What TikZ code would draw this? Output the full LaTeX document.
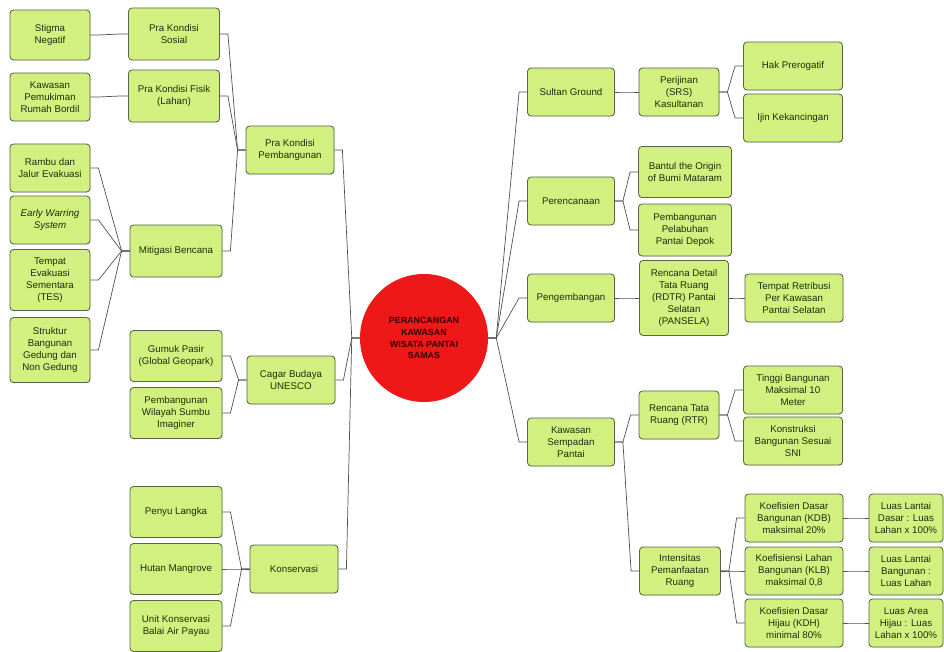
\documentclass[tikz,border=0pt]{standalone}
\usepackage{fontspec}
\setmainfont{Liberation Sans}
\usepackage{tikz}
\usetikzlibrary{calc, shadows}
\definecolor{boxgreen}{RGB}{210, 240, 128}
\definecolor{boxedge}{RGB}{90, 100, 75}
\definecolor{linegray}{RGB}{80, 80, 80}
\definecolor{textgreen}{RGB}{30, 45, 10}
\definecolor{hubred}{RGB}{238, 24, 24}

\begin{document}
\begin{tikzpicture}[x=0.03cm, y=-0.03cm,
    box/.style={draw=boxedge, fill=boxgreen, rounded corners=3pt,
      line width=0.7pt, text=textgreen, align=center, inner sep=1pt,
      font=\fontsize{8.3}{10.2}\selectfont,
      drop shadow={shadow xshift=0.5pt, shadow yshift=-0.6pt, opacity=0.25},
      minimum width=#1, minimum height=1.44cm},
    box/.default=2.61cm,
    hub/.style={circle, fill=hubred, minimum size=3.84cm, align=center,
      text=black!80!red, font=\fontsize{7.6}{10.2}\selectfont\bfseries},
    link/.style={draw=linegray, line width=0.6pt,
      to path={-- ++(8,0) -- ($(\tikztotarget)+(-8,0)$) -- (\tikztotarget)}}]
    \useasboundingbox (0,0) rectangle (944,652);

    %% centre
    \node[hub] (hub) at (424,338)
      {PERANCANGAN\\KAWASAN\\WISATA PANTAI\\SAMAS};

    %% left: leaves
    \node[box=2.4cm, minimum height=1.5cm] (stigma) at (50,35) {Stigma\\Negatif};
    \node[box=2.4cm] (bordil) at (50,97) {Kawasan\\Pemukiman\\Rumah Bordil};
    \node[box=2.4cm] (rambu) at (50,168) {Rambu dan\\Jalur Evakuasi};
    \node[box=2.4cm] (ews) at (50,220) {\itshape Early Warring\\\itshape System};
    \node[box=2.4cm, minimum height=1.83cm] (tes) at (50,280)
      {Tempat\\Evakuasi\\Sementara\\(TES)};
    \node[box=2.4cm, minimum height=1.95cm] (struktur) at (50,350)
      {Struktur\\Bangunan\\Gedung dan\\Non Gedung};

    %% left: second level
    \node[box=2.73cm, minimum height=1.56cm] (sosial) at (174,34) {Pra Kondisi\\Sosial};
    \node[box=2.73cm, minimum height=1.56cm] (fisik) at (174,96) {Pra Kondisi Fisik\\(Lahan)};
    \node[box=2.76cm, minimum height=1.56cm] (mitigasi) at (176,251) {Mitigasi Bencana};
    \node[box=2.76cm, minimum height=1.53cm] (gumuk) at (176,356) {Gumuk Pasir\\(Global Geopark)};
    \node[box=2.76cm, minimum height=1.53cm] (sumbu) at (176,413)
      {Pembangunan\\Wilayah Sumbu\\Imaginer};
    \node[box=2.76cm, minimum height=1.53cm] (penyu) at (176,512) {Penyu Langka};
    \node[box=2.76cm, minimum height=1.53cm] (mangrove) at (176,569) {Hutan Mangrove};
    \node[box=2.76cm, minimum height=1.53cm] (balai) at (176,626)
      {Unit Konservasi\\Balai Air Payau};

    %% left: first level
    \node[box=2.64cm] (pkp) at (290,150) {Pra Kondisi\\Pembangunan};
    \node[box=2.64cm] (cagar) at (291,380) {Cagar Budaya\\UNESCO};
    \node[box=2.64cm] (konservasi) at (294,569) {Konservasi};

    %% right: first level
    \node[box] (sultan) at (571,92) {Sultan Ground};
    \node[box] (perencanaan) at (571,201) {Perencanaan};
    \node[box] (pengembangan) at (571,298) {Pengembangan};
    \node[box] (sempadan) at (571,442) {Kawasan\\Sempadan\\Pantai};

    %% right: second level
    \node[box=2.4cm] (perijinan) at (679,92) {Perijinan\\(SRS)\\Kasultanan};
    \node[box=2.79cm, minimum height=1.53cm] (bantul) at (685,172)
      {Bantul the Origin\\of Bumi Mataram};
    \node[box=2.79cm, minimum height=1.56cm] (depok) at (685,230)
      {Pembangunan\\Pelabuhan\\Pantai Depok};
    \node[box=2.67cm, minimum height=2.25cm] (rdtr) at (684,298)
      {Rencana Detail\\Tata Ruang\\(RDTR) Pantai\\Selatan\\(PANSELA)};
    \node[box=2.4cm] (rtr) at (679,415) {Rencana Tata\\Ruang (RTR)};
    \node[box=2.43cm] (intensitas) at (680,571) {Intensitas\\Pemanfaatan\\Ruang};

    %% right: third level
    \node[box=2.97cm] (hak) at (793,66) {Hak Prerogatif};
    \node[box=2.97cm] (ijin) at (793,118) {Ijin Kekancingan};
    \node[box=2.94cm] (retribusi) at (794,298)
      {Tempat Retribusi\\Per Kawasan\\Pantai Selatan};
    \node[box=2.97cm] (tinggi) at (793,390) {Tinggi Bangunan\\Maksimal 10\\Meter};
    \node[box=2.97cm] (sni) at (793,441) {Konstruksi\\Bangunan Sesuai\\SNI};
    \node[box=2.94cm] (kdb) at (794,518)
      {Koefisien Dasar\\Bangunan (KDB)\\maksimal 20\%};
    \node[box=2.94cm] (klb) at (794,571)
      {Koefisiensi Lahan\\Bangunan (KLB)\\maksimal 0,8};
    \node[box=2.94cm] (kdh) at (794,623)
      {Koefisien Dasar\\Hijau (KDH)\\minimal 80\%};

    %% right: fourth level
    \node[box=2.22cm] (luaskdb) at (906,518) {Luas Lantai\\Dasar : Luas\\Lahan x 100\%};
    \node[box=2.22cm] (luasklb) at (906,571) {Luas Lantai\\Bangunan :\\Luas Lahan};
    \node[box=2.22cm] (luaskdh) at (906,623) {Luas Area\\Hijau : Luas\\Lahan x 100\%};

    %% links, left half
    \draw[link] (stigma.east) to (sosial.west);
    \draw[link] (bordil.east) to (fisik.west);
    \draw[link] (rambu.east) to (mitigasi.west);
    \draw[link] (ews.east) to (mitigasi.west);
    \draw[link] (tes.east) to (mitigasi.west);
    \draw[link] (struktur.east) to (mitigasi.west);
    \draw[link] (sosial.east) to (pkp.west);
    \draw[link] (fisik.east) to (pkp.west);
    \draw[link] (mitigasi.east) to (pkp.west);
    \draw[link] (gumuk.east) to (cagar.west);
    \draw[link] (sumbu.east) to (cagar.west);
    \draw[link] (penyu.east) to (konservasi.west);
    \draw[link] (mangrove.east) to (konservasi.west);
    \draw[link] (balai.east) to (konservasi.west);
    \draw[link] (pkp.east) to (hub.west);
    \draw[link] (cagar.east) to (hub.west);
    \draw[link] (konservasi.east) to (hub.west);

    %% links, right half
    \draw[link] (hub.east) to (sultan.west);
    \draw[link] (hub.east) to (perencanaan.west);
    \draw[link] (hub.east) to (pengembangan.west);
    \draw[link] (hub.east) to (sempadan.west);
    \draw[link] (sultan.east) to (perijinan.west);
    \draw[link] (perijinan.east) to (hak.west);
    \draw[link] (perijinan.east) to (ijin.west);
    \draw[link] (perencanaan.east) to (bantul.west);
    \draw[link] (perencanaan.east) to (depok.west);
    \draw[link] (pengembangan.east) to (rdtr.west);
    \draw[link] (rdtr.east) to (retribusi.west);
    \draw[link] (sempadan.east) to (rtr.west);
    \draw[link] (sempadan.east) to (intensitas.west);
    \draw[link] (rtr.east) to (tinggi.west);
    \draw[link] (rtr.east) to (sni.west);
    \draw[link] (intensitas.east) to (kdb.west);
    \draw[link] (intensitas.east) to (klb.west);
    \draw[link] (intensitas.east) to (kdh.west);
    \draw[link] (kdb.east) to (luaskdb.west);
    \draw[link] (klb.east) to (luasklb.west);
    \draw[link] (kdh.east) to (luaskdh.west);
  \end{tikzpicture}
\end{document}
